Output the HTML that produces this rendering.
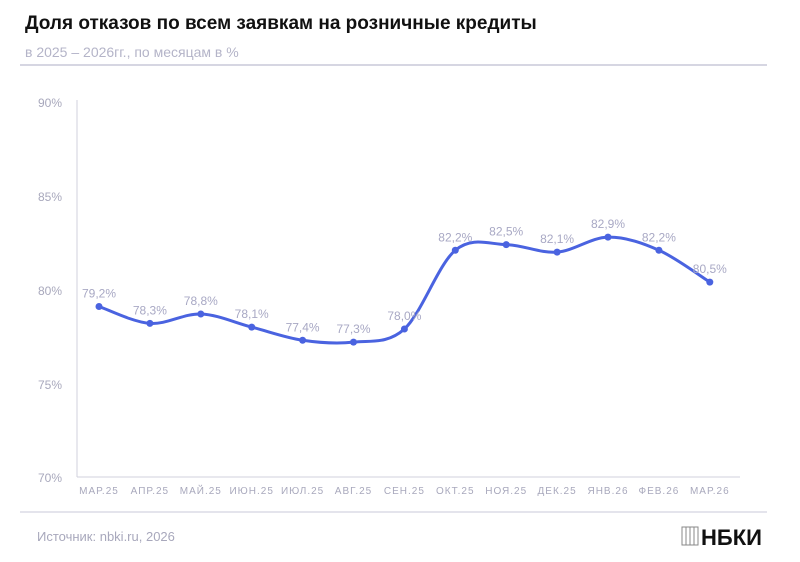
<!DOCTYPE html>
<html><head><meta charset="utf-8"><style>
body{margin:0;background:#fff;width:800px;height:557px;overflow:hidden;font-family:"Liberation Sans",sans-serif}
</style></head><body>
<svg width="800" height="557" xmlns="http://www.w3.org/2000/svg" font-family="Liberation Sans, sans-serif">
<text x="25" y="29" font-size="19" font-weight="bold" fill="#111">Доля отказов по всем заявкам на розничные кредиты</text>
<text x="25" y="57" font-size="14" fill="#b4b4c8">в 2025 – 2026гг., по месяцам в %</text>
<line x1="20" y1="65" x2="767" y2="65" stroke="#c8c8d8" stroke-width="1.5"/>
<g font-size="12" fill="#a8a8bc" text-anchor="end">
<text x="62" y="107">90%</text><text x="62" y="201">85%</text><text x="62" y="295">80%</text><text x="62" y="389">75%</text><text x="62" y="482">70%</text>
</g>
<line x1="77" y1="100" x2="77" y2="477" stroke="#d0d0dc"/>
<line x1="77" y1="477" x2="740" y2="477" stroke="#d0d0dc"/>
<g id="xl" font-size="10" fill="#a8a8bc" text-anchor="middle" letter-spacing="1"></g>
<path id="ln" fill="none" stroke="#4a63e0" stroke-width="3"/>
<g id="pts" fill="#4a63e0"></g>
<g id="lb" font-size="12" fill="#a8a8c4" text-anchor="middle"></g>
<line x1="20" y1="512" x2="767" y2="512" stroke="#c8c8d8" stroke-width="1"/>
<text x="37" y="541" font-size="13" fill="#a8a8bc">Источник: nbki.ru, 2026</text>
<g stroke="#888" stroke-width="1" fill="none"><rect x="682" y="527" width="16" height="18"/><line x1="686" y1="527" x2="686" y2="545"/><line x1="690" y1="527" x2="690" y2="545"/><line x1="694" y1="527" x2="694" y2="545"/></g>
<text x="701" y="545" font-size="22" font-weight="bold" fill="#111">НБКИ</text>
</svg>
<script>
var v=[79.2,78.3,78.8,78.1,77.4,77.3,78.0,82.2,82.5,82.1,82.9,82.2,80.5];
var m=["МАР.25","АПР.25","МАЙ.25","ИЮН.25","ИЮЛ.25","АВГ.25","СЕН.25","ОКТ.25","НОЯ.25","ДЕК.25","ЯНВ.26","ФЕВ.26","МАР.26"];
var P=v.map(function(a,i){return [99+i*50.9,479-(a-70)*18.75]});
var ns="http://www.w3.org/2000/svg",d="M"+P[0];
for(var i=0;i<P.length-1;i++){var p0=P[i-1]||P[i],p1=P[i],p2=P[i+1],p3=P[i+2]||p2,t=6;
d+=" C"+(p1[0]+(p2[0]-p0[0])/t)+","+(p1[1]+(p2[1]-p0[1])/t)+" "+(p2[0]-(p3[0]-p1[0])/t)+","+(p2[1]-(p3[1]-p1[1])/t)+" "+p2;}
document.getElementById("ln").setAttribute("d",d);
P.forEach(function(p,i){var c=document.createElementNS(ns,"circle");c.setAttribute("cx",p[0]);c.setAttribute("cy",p[1]);c.setAttribute("r",3.5);document.getElementById("pts").appendChild(c);
var t=document.createElementNS(ns,"text");t.setAttribute("x",p[0]);t.setAttribute("y",p[1]-9);t.textContent=v[i].toFixed(1).replace(".",",")+"%";document.getElementById("lb").appendChild(t);
var x=document.createElementNS(ns,"text");x.setAttribute("x",p[0]);x.setAttribute("y",494);x.textContent=m[i];document.getElementById("xl").appendChild(x);});
</script>
</body></html>
